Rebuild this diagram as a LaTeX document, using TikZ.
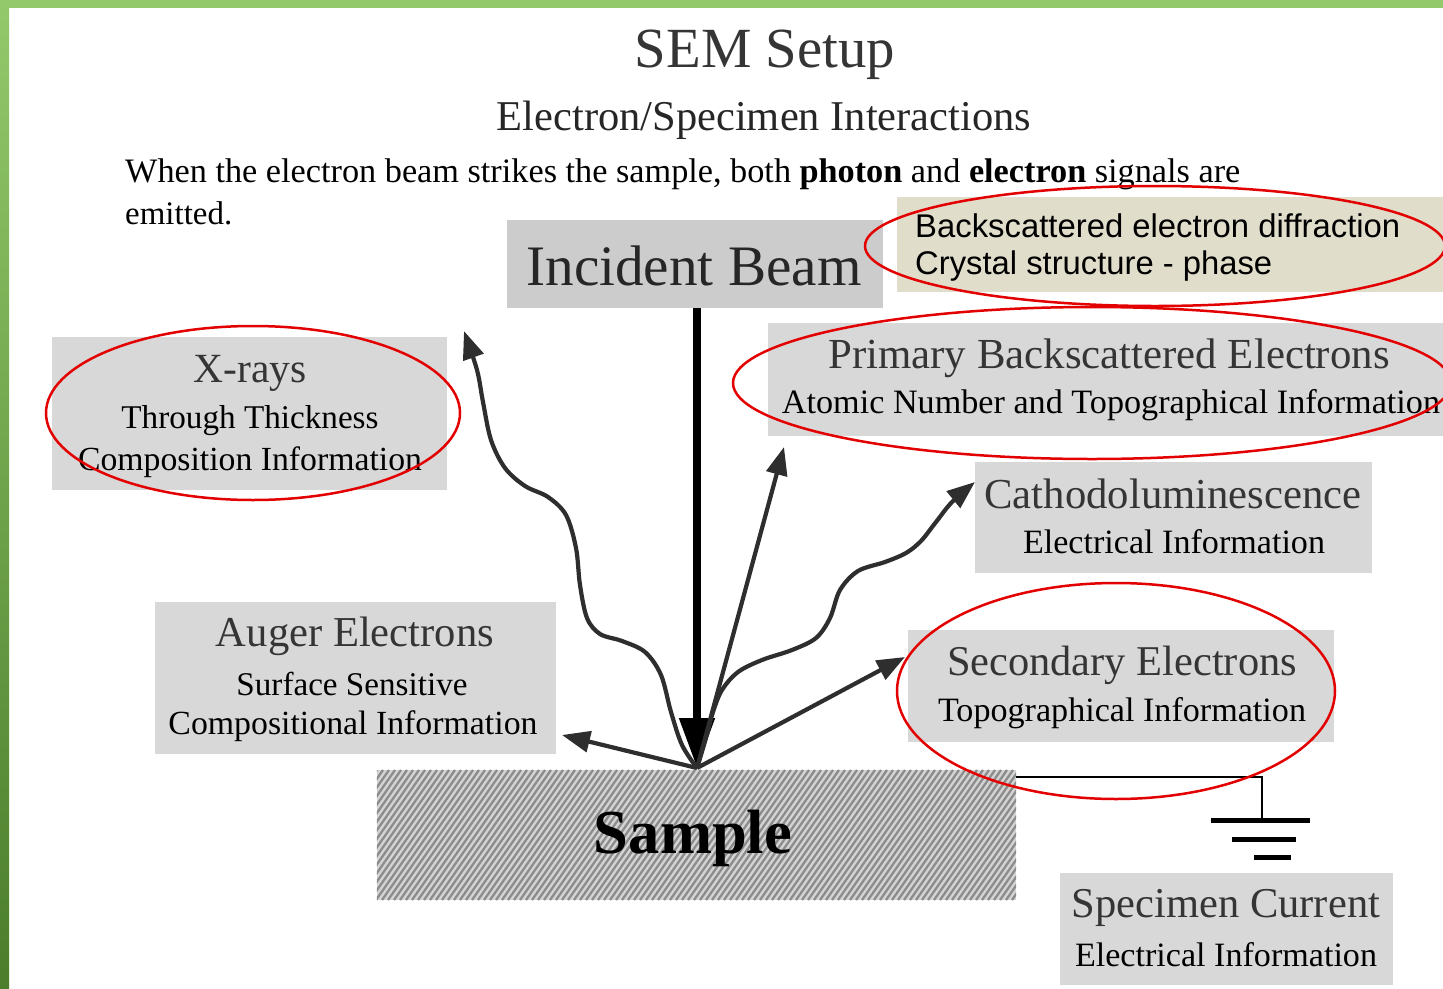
\documentclass[tikz,border=0pt]{standalone}
\usepackage{fontspec}
\setmainfont{Liberation Serif}
\newfontfamily\arialfont{Liberation Sans}
\usepackage{graphicx}
\usetikzlibrary{arrows.meta}

\definecolor{framegreen}{HTML}{93C96B}
\definecolor{framedark}{HTML}{4B7D2B}
\definecolor{boxgray}{HTML}{D8D8D8}
\definecolor{beamgray}{HTML}{CCCCCC}
\definecolor{notebeige}{HTML}{E0DDCB}
\definecolor{inkgray}{HTML}{2E2E2E}
\definecolor{titlegray}{HTML}{353535}
\definecolor{hatchlight}{HTML}{D4D4D4}
\definecolor{hatchdark}{HTML}{8C8C8C}
\definecolor{ringred}{HTML}{E30000}

% set a line of text to a given width (in pt)
\newcommand{\fitw}[2]{\resizebox{#1pt}{!}{#2}}

\begin{document}
\begin{tikzpicture}[x=1pt,y=-1pt,
  panel/.style={fill=boxgray, draw=none, inner sep=0pt},
  boxtitle/.style={inner sep=0pt, text=titlegray},
  boxtext/.style={inner sep=0pt, text=black},
  ray/.style={draw=inkgray, line width=4.2pt, line join=round,
              -{Triangle[length=28pt,width=21pt]}},
  ring/.style={draw=ringred, line width=2.5pt},
  earth/.style={draw=black, line width=5pt},
]
\useasboundingbox (0,0) rectangle (1443,988);
\fill[white] (0,0) rectangle (1443,988);

% slide frame
\fill[framegreen] (0,0) rectangle (1443,8);
\shade[top color=framegreen, bottom color=framedark] (0,0) rectangle (9,988);

% headings
\node[boxtitle] (title) at (765,55) {\fitw{260}{SEM Setup}};
\node[boxtext, text=black!85] (subtitle) at (764,120) {\fitw{534}{Electron/Specimen Interactions}};
\node[boxtext, anchor=west] (intro1) at (125,174)
  {\fitw{1115}{When the electron beam strikes the sample, both \textbf{photon} and \textbf{electron} signals are}};
\node[boxtext, anchor=west] (intro2) at (125,213) {\fitw{107}{emitted.}};

% panels
\node[panel, fill=beamgray, minimum width=376pt, minimum height=88pt] (beam) at (695,264) {};
\node[panel, fill=notebeige, minimum width=546pt, minimum height=95pt] (ebsd) at (1170,244.5) {};
\node[panel, minimum width=675pt, minimum height=113pt] (bse) at (1105.5,379.5) {};
\node[panel, minimum width=397pt, minimum height=111pt] (cl) at (1173.5,517.5) {};
\node[panel, minimum width=426pt, minimum height=112pt] (se) at (1121,686) {};
\node[panel, minimum width=395pt, minimum height=153pt] (xray) at (249.5,413.5) {};
\node[panel, minimum width=401pt, minimum height=152pt] (auger) at (355.5,678) {};
\node[panel, minimum width=333pt, minimum height=112pt] (sc) at (1226.5,929) {};
\node[inner sep=0pt, minimum width=639pt, minimum height=130pt] (sample) at (696.5,835) {};

% hatched specimen
\begin{scope}
  \clip (sample.north west) rectangle (sample.south east);
  \fill[hatchlight] (sample.north west) rectangle (sample.south east);
  \foreach \x in {280,286,...,1020}
    \draw[hatchdark, line width=2.3pt] (\x,900) -- ++(91,-130);
\end{scope}

% panel texts
\node[boxtitle, text=black!85] (beamT) at (694,266) {\fitw{335}{Incident Beam}};
\node[boxtext, anchor=west] (ebsdT1) at (915,226) {\arialfont\fitw{485}{Backscattered electron diffraction}};
\node[boxtext, anchor=west] (ebsdT2) at (915,266) {\arialfont\fitw{357}{Crystal structure - phase}};
\node[boxtitle] (bseT1) at (1109,358) {\fitw{561}{Primary Backscattered Electrons}};
\node[boxtext] (bseT2) at (1111,405) {\fitw{658}{Atomic Number and Topographical Information}};
\node[boxtitle] (clT1) at (1173,494) {\fitw{377}{Cathodoluminescence}};
\node[boxtext] (clT2) at (1174,542) {\fitw{302}{Electrical Information}};
\node[boxtitle] (seT1) at (1122,665) {\fitw{350}{Secondary Electrons}};
\node[boxtext] (seT2) at (1122,713) {\fitw{368}{Topographical Information}};
\node[boxtitle] (xrayT1) at (250,373) {\fitw{113}{X-rays}};
\node[boxtext] (xrayT2) at (250,421) {\fitw{257}{Through Thickness}};
\node[boxtext] (xrayT3) at (250,462) {\fitw{344}{Composition Information}};
\node[boxtitle] (augerT1) at (355,636) {\fitw{278}{Auger Electrons}};
\node[boxtext] (augerT2) at (352,684) {\fitw{231}{Surface Sensitive}};
\node[boxtext] (augerT3) at (353,726) {\fitw{369}{Compositional Information}};
\node[boxtext] (sampleT) at (693,838) {\fitw{198}{\textbf{Sample}}};
\node[boxtitle] (scT1) at (1226,908) {\fitw{308}{Specimen Current}};
\node[boxtext] (scT2) at (1226,955) {\fitw{302}{Electrical Information}};

% point of impact and ray ends
\coordinate (hit) at (697,768);
\coordinate (xrayTip) at (464,331);
\coordinate (bseTip) at (784,447);
\coordinate (clTip) at (975,482);
\coordinate (seTip) at (905,657);
\coordinate (augerTip) at (562,735);

% incident beam
\draw[black, line width=8pt, -{Triangle[length=50pt,width=34pt]}]
  (hit |- beam.south) -- (hit);

% emitted signals
\draw[ray] (hit) -- (augerTip);
\draw[ray] (hit) -- (bseTip);
\draw[ray] (hit) -- (seTip);
\draw[ray] plot[smooth, tension=0.55] coordinates {
  (hit) (682,745) (671,712) (661,675) (645,652) (622,641) (600,634)
  (587,618) (580,585) (576,548) (566,515) (548,497) (525,486)
  (505,468) (491,440) (483,402) (477,370) (xrayTip)};
\draw[ray] plot[smooth, tension=0.55] coordinates {
  (hit) (706,738) (713,712) (722,690) (738,672) (762,660) (792,650)
  (816,638) (830,618) (840,590) (858,571) (885,562) (906,553)
  (921,541) (936,522) (952,502) (clTip)};

% specimen current to earth
\coordinate (gnd) at (1262,820);
\draw[black, line width=2.5pt] ([yshift=-7pt]sample.north east) -| (gnd);
\draw[earth] (1211,820) -- (1310,820);
\draw[earth] (1232,839) -- (1296,839);
\draw[earth] (1254,857) -- (1291,857);

% highlighted signals
\draw[ring] (1155,246) ellipse [x radius=290, y radius=60];
\draw[ring] (1092,383) ellipse [x radius=359, y radius=76];
\draw[ring] (253,413) ellipse [x radius=207, y radius=87];
\draw[ring] (1116,691) ellipse [x radius=219, y radius=108];
\end{tikzpicture}
\end{document}
